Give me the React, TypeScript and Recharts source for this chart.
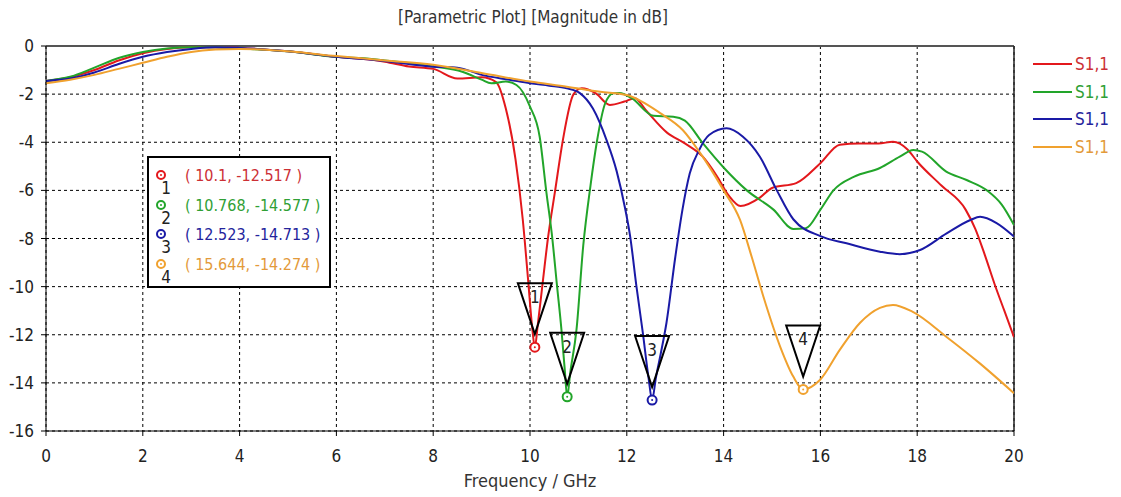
import React from "react";
import { LineChart, Line, XAxis, YAxis, CartesianGrid, ReferenceLine, ReferenceDot } from "recharts";

const NARROW = "'Liberation Sans Narrow', 'DejaVu Sans Condensed', 'Arial Narrow', sans-serif";
const TICKFONT = "'DejaVu Sans Condensed', 'DejaVu Sans', Tahoma, sans-serif";

const xTicks = [0, 2, 4, 6, 8, 10, 12, 14, 16, 18, 20];
const yTicks = [0, -2, -4, -6, -8, -10, -12, -14, -16];

// red S1,1
const redFreq = [0, 0.5, 1, 1.5, 2, 2.5, 3, 3.5, 4, 5, 6, 7, 7.5, 8, 8.5, 9, 9.3, 9.5, 9.7, 9.85, 9.96, 10.05, 10.1, 10.16, 10.27, 10.37, 10.52, 10.68, 10.9, 11.07, 11.36, 11.65, 11.95, 12.17, 12.39, 12.83, 13.2, 13.57, 13.86, 14.1, 14.35, 14.75, 15, 15.5, 16, 16.4, 16.8, 17.2, 17.5, 17.8, 18, 18.5, 19, 19.2, 19.4, 19.6, 19.8, 20];
const redDb = [-1.45, -1.3, -1.0, -0.6, -0.3, -0.12, -0.05, -0.05, -0.08, -0.22, -0.45, -0.65, -0.85, -0.95, -1.35, -1.3, -1.5, -2.6, -4.7, -7.2, -9.7, -11.8, -12.517, -11.6, -9.7, -8, -6, -3.9, -2.0, -1.76, -1.97, -2.45, -2.31, -2.17, -2.66, -3.6, -4.05, -4.6, -5.4, -6.2, -6.65, -6.3, -5.9, -5.7, -4.87, -4.1, -4.05, -4.05, -3.98, -4.3, -4.8, -5.8, -6.8, -7.6, -8.7, -9.9, -11, -12.1];

// green S1,1
const greenFreq = [0, 0.5, 1, 1.5, 2, 2.5, 3, 3.5, 4, 5, 6, 6.5, 7, 8, 8.6, 9.0, 9.2, 9.5, 9.72, 10.0, 10.2, 10.34, 10.45, 10.56, 10.65, 10.72, 10.768, 10.83, 10.96, 11.1, 11.25, 11.38, 11.55, 11.72, 11.85, 12.1, 12.55, 12.96, 13.2, 13.57, 14, 14.48, 15.03, 15.44, 15.7, 16, 16.27, 16.7, 17.23, 17.64, 17.92, 18.1, 18.6, 19.02, 19.44, 19.75, 20];
const greenDb = [-1.45, -1.28, -0.9, -0.5, -0.25, -0.1, -0.05, -0.05, -0.1, -0.22, -0.45, -0.5, -0.6, -0.85, -1.07, -1.4, -1.55, -1.48, -1.62, -2.52, -3.77, -6.1, -7.8, -10, -11.8, -13.5, -14.577, -13.6, -11.8, -8.3, -5.8, -4.0, -2.4, -1.96, -1.95, -2.17, -2.9, -2.94, -3.1, -4.04, -5.05, -6.0, -6.8, -7.6, -7.57, -6.8, -6.0, -5.43, -5.07, -4.6, -4.32, -4.39, -5.22, -5.57, -6.0, -6.6, -7.44];

// blue S1,1
const blueFreq = [0, 0.5, 1, 1.5, 2, 2.5, 3, 3.5, 4, 5, 6, 7, 8, 8.5, 9, 9.6, 10, 10.4, 10.76, 11.03, 11.3, 11.58, 11.79, 11.96, 12.07, 12.2, 12.33, 12.45, 12.523, 12.6, 12.7, 12.82, 13.0, 13.15, 13.3, 13.5, 13.7, 14.06, 14.4, 14.75, 15.1, 15.44, 16.0, 16.54, 17.23, 17.64, 18.06, 18.6, 19.1, 19.3, 19.64, 20];
const blueDb = [-1.45, -1.35, -1.1, -0.75, -0.45, -0.25, -0.12, -0.05, -0.08, -0.22, -0.45, -0.62, -0.86, -0.9, -1.2, -1.41, -1.55, -1.65, -1.76, -1.96, -2.6, -3.9, -5.2, -6.7, -7.92, -10, -11.9, -13.8, -14.713, -13.8, -12.8, -11.5, -8.8, -6.8, -5.3, -4.3, -3.7, -3.42, -3.77, -4.6, -6.0, -7.2, -7.9, -8.2, -8.55, -8.65, -8.48, -7.8, -7.23, -7.1, -7.36, -7.92];

// orange S1,1
const orangeFreq = [0, 0.5, 1, 1.5, 2, 2.5, 3, 3.5, 4, 5, 6, 7, 8, 9, 10, 10.76, 11.45, 12, 12.69, 13.16, 13.5, 14, 14.34, 14.58, 14.82, 15.17, 15.44, 15.644, 15.99, 16.4, 16.82, 17.23, 17.5, 17.9, 18.6, 19.3, 20];
const orangeDb = [-1.55, -1.4, -1.2, -0.95, -0.7, -0.45, -0.25, -0.15, -0.12, -0.22, -0.42, -0.6, -0.78, -1.12, -1.48, -1.69, -1.9, -2.04, -2.79, -3.5, -4.4, -6.0, -7.23, -8.76, -10.4, -12.5, -13.74, -14.274, -13.88, -12.63, -11.5, -10.88, -10.76, -11.04, -12.08, -13.2, -14.43];

const seriesNames = ["S1,1", "S1,1", "S1,1", "S1,1"];
const seriesColors = ["#e3181c", "#22a52a", "#1a1aa6", "#f0a12e"];
const textColors = ["#cc3035", "#30a035", "#24249c", "#e39a3a"];

const markerIds = [1, 2, 3, 4];
const markerFreq = [10.1, 10.768, 12.523, 15.644];
const markerDb = [-12.517, -14.577, -14.713, -14.274];

const toPoints = (f: number[], v: number[]) => f.map((x, i) => ({ f: x, db: v[i] }));

const series = [
  toPoints(redFreq, redDb),
  toPoints(greenFreq, greenDb),
  toPoints(blueFreq, blueDb),
  toPoints(orangeFreq, orangeDb),
];

const markerShape = (id: number, color: string) => (props: any) => {
  const { cx, cy } = props;
  return (
    <g>
      <polygon
        points={`${cx - 17},${cy - 64} ${cx + 17},${cy - 64} ${cx},${cy - 13}`}
        fill="none"
        stroke="#000"
        strokeWidth={2}
      />
      <text x={cx} y={cy - 50} textAnchor="middle" dominantBaseline="central" fontSize={17} fontFamily={TICKFONT} fill="#222">
        {id}
      </text>
      <circle cx={cx} cy={cy} r={4.5} fill="#fff" stroke={color} strokeWidth={2} />
      <circle cx={cx} cy={cy} r={1} fill={color} />
    </g>
  );
};

export default function App() {
  return (
    <div style={{ position: "absolute", left: 0, top: 0, width: 1121, height: 497, background: "#fff" }}>
      <div
        style={{
          position: "absolute",
          left: 0,
          width: 1066,
          top: 7,
          textAlign: "center",
          fontFamily: NARROW,
          fontSize: 17,
          color: "#333",
        }}
      >
        [Parametric Plot] [Magnitude in dB]
      </div>

      <LineChart width={1121} height={497} margin={{ top: 46, right: 107, bottom: 36, left: 0 }}>
        <CartesianGrid stroke="#000" strokeDasharray="3 3" strokeWidth={1} />
        <XAxis
          type="number"
          dataKey="f"
          domain={[0, 20]}
          ticks={xTicks}
          height={30}
          allowDataOverflow
          stroke="#000"
          tickSize={5}
          tickMargin={14}
          tick={{ fill: "#222", fontSize: 17, fontFamily: TICKFONT }}
        />
        <YAxis
          type="number"
          domain={[-16, 0]}
          ticks={yTicks}
          width={46}
          allowDataOverflow
          stroke="#000"
          tickSize={5}
          tickMargin={7}
          tick={{ fill: "#222", fontSize: 17, fontFamily: TICKFONT }}
        />
        <ReferenceLine y={0} stroke="#555" strokeWidth={2} />
        <ReferenceLine x={20} stroke="#222" strokeWidth={1.5} />
        {series.map((d, i) => (
          <Line
            key={i}
            data={d}
            dataKey="db"
            name={seriesNames[i]}
            type="monotone"
            stroke={seriesColors[i]}
            strokeWidth={2}
            dot={false}
            isAnimationActive={false}
          />
        ))}
        {markerIds.map((id, i) => (
          <ReferenceDot
            key={id}
            x={markerFreq[i]}
            y={markerDb[i]}
            shape={markerShape(id, seriesColors[i])}
          />
        ))}
      </LineChart>

      <div
        style={{
          position: "absolute",
          left: 0,
          width: 1060,
          top: 470,
          textAlign: "center",
          fontFamily: NARROW,
          fontSize: 18,
          color: "#333",
        }}
      >
        Frequency / GHz
      </div>

      {/* legend on the right */}
      <div style={{ position: "absolute", left: 1033, top: 50 }}>
        {seriesNames.map((n, i) => (
          <div key={i} style={{ display: "flex", alignItems: "center", height: 27.7 }}>
            <div style={{ width: 39, height: 2, background: seriesColors[i] }} />
            <span style={{ marginLeft: 3, fontFamily: TICKFONT, fontSize: 17, color: textColors[i] }}>{n}</span>
          </div>
        ))}
      </div>

      {/* marker values box */}
      <div
        style={{
          position: "absolute",
          left: 147,
          top: 156,
          width: 180,
          height: 128,
          border: "2px solid #000",
          background: "#fff",
        }}
      >
        {markerIds.map((id, i) => (
          <div key={id} style={{ position: "absolute", left: 0, top: 5 + i * 29.5, height: 28, width: 180 }}>
            <svg width={30} height={34} style={{ position: "absolute", left: 5, top: 0 }}>
              <circle cx={7} cy={12} r={4} fill="#fff" stroke={seriesColors[i]} strokeWidth={2} />
              <circle cx={7} cy={12} r={1} fill={seriesColors[i]} />
              <text x={12} y={31} textAnchor="middle" fontSize={17} fontFamily={TICKFONT} fill="#222">
                {id}
              </text>
            </svg>
            <span
              style={{
                position: "absolute",
                left: 36,
                top: 3,
                fontFamily: TICKFONT,
                fontSize: 16,
                color: textColors[i],
                whiteSpace: "pre",
              }}
            >
              {`( ${markerFreq[i]}, ${markerDb[i]} )`}
            </span>
          </div>
        ))}
      </div>
    </div>
  );
}
